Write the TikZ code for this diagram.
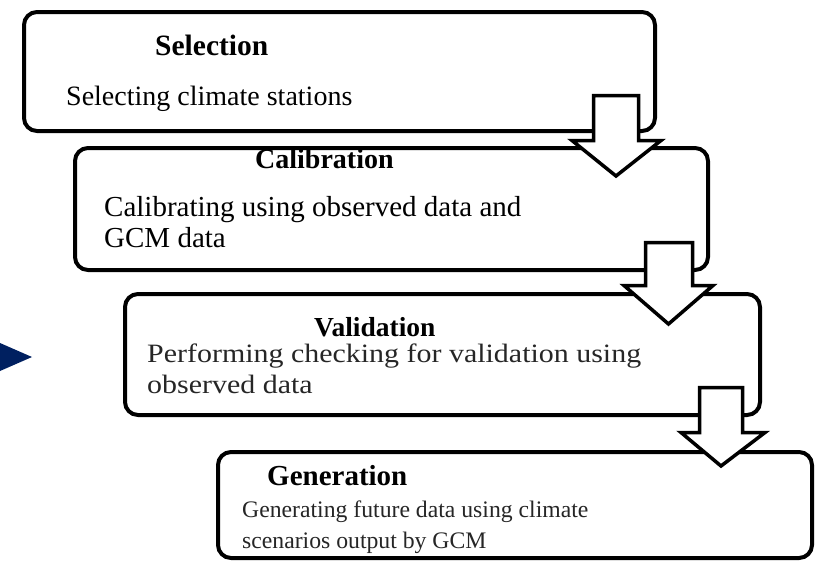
\documentclass[tikz,border=0pt]{standalone}
\usepackage{graphicx}
\usepackage{fontspec}
\setmainfont{Liberation Serif}
\definecolor{navy}{RGB}{0,32,96}
\tikzset{
  stage/.style={draw=black, line width=4pt, rounded corners=13pt, fill=white, inner sep=0pt},
  label/.style={anchor=base west, inner sep=0pt, text=black},
  blockarrow/.style={draw=black, fill=white, line width=3.5pt, line join=miter},
}
\newcommand{\fs}[1]{\fontsize{#1}{#1}\selectfont}
\newcommand{\widetext}[1]{\scalebox{1.13}[1]{#1}}
\begin{document}
\begin{tikzpicture}[x=1pt, y=-1pt]
\useasboundingbox (0,0) rectangle (819,563);

% stage boxes
\node[stage, minimum width=631pt, minimum height=119pt] (sel) at (339.5,71.5) {};
\node[stage, minimum width=633pt, minimum height=122pt] (cal) at (391.5,209) {};
\node[stage, minimum width=635pt, minimum height=121pt] (val) at (442.5,354.5) {};
\node[stage, minimum width=594pt, minimum height=106pt] (gen) at (515,505) {};

% texts
\node[label, font=\fs{29.5}\bfseries] (selT) at (155,55) {Selection};
\node[label, font=\fs{28}] (selD) at (66,105) {Selecting climate stations};

\node[label, font=\fs{28}\bfseries] (calT) at (255,168) {Calibration};
\node[label, font=\fs{29}] (calD1) at (104,216) {Calibrating using observed data and};
\node[label, font=\fs{29}] (calD2) at (104,247) {GCM data};

\node[label, font=\fs{27.5}\bfseries] (valT) at (314,336) {Validation};
\node[label, font=\fs{26.5}, text=black!85] (valD1) at (147,362) {\widetext{Performing checking for validation using}};
\node[label, font=\fs{26.5}, text=black!85] (valD2) at (147,393) {\widetext{observed data}};

\node[label, font=\fs{29}\bfseries] (genT) at (267,485) {Generation};
\node[label, font=\fs{23.7}, text=black!85] (genD1) at (242,517) {Generating future data using climate};
\node[label, font=\fs{23.7}, text=black!85] (genD2) at (242,548) {scenarios output by GCM};

% block arrows between the stages
\draw[blockarrow] (593.5,95.5) -- (638.5,95.5) -- (638.5,140.5) -- (661,140.5)
  -- (616,176) -- (572,140.5) -- (593.5,140.5) -- cycle;
\draw[blockarrow] (645.5,242.5) -- (692.5,242.5) -- (692.5,285.5) -- (713,285.5)
  -- (668.5,324) -- (624,285.5) -- (645.5,285.5) -- cycle;
\draw[blockarrow] (699.5,387.5) -- (742.5,387.5) -- (742.5,432.5) -- (765,432.5)
  -- (721,466) -- (681,432.5) -- (699.5,432.5) -- cycle;

% pointer triangle on the left
\fill[navy] (0,343) -- (32,357) -- (0,371) -- cycle;
\end{tikzpicture}
\end{document}
